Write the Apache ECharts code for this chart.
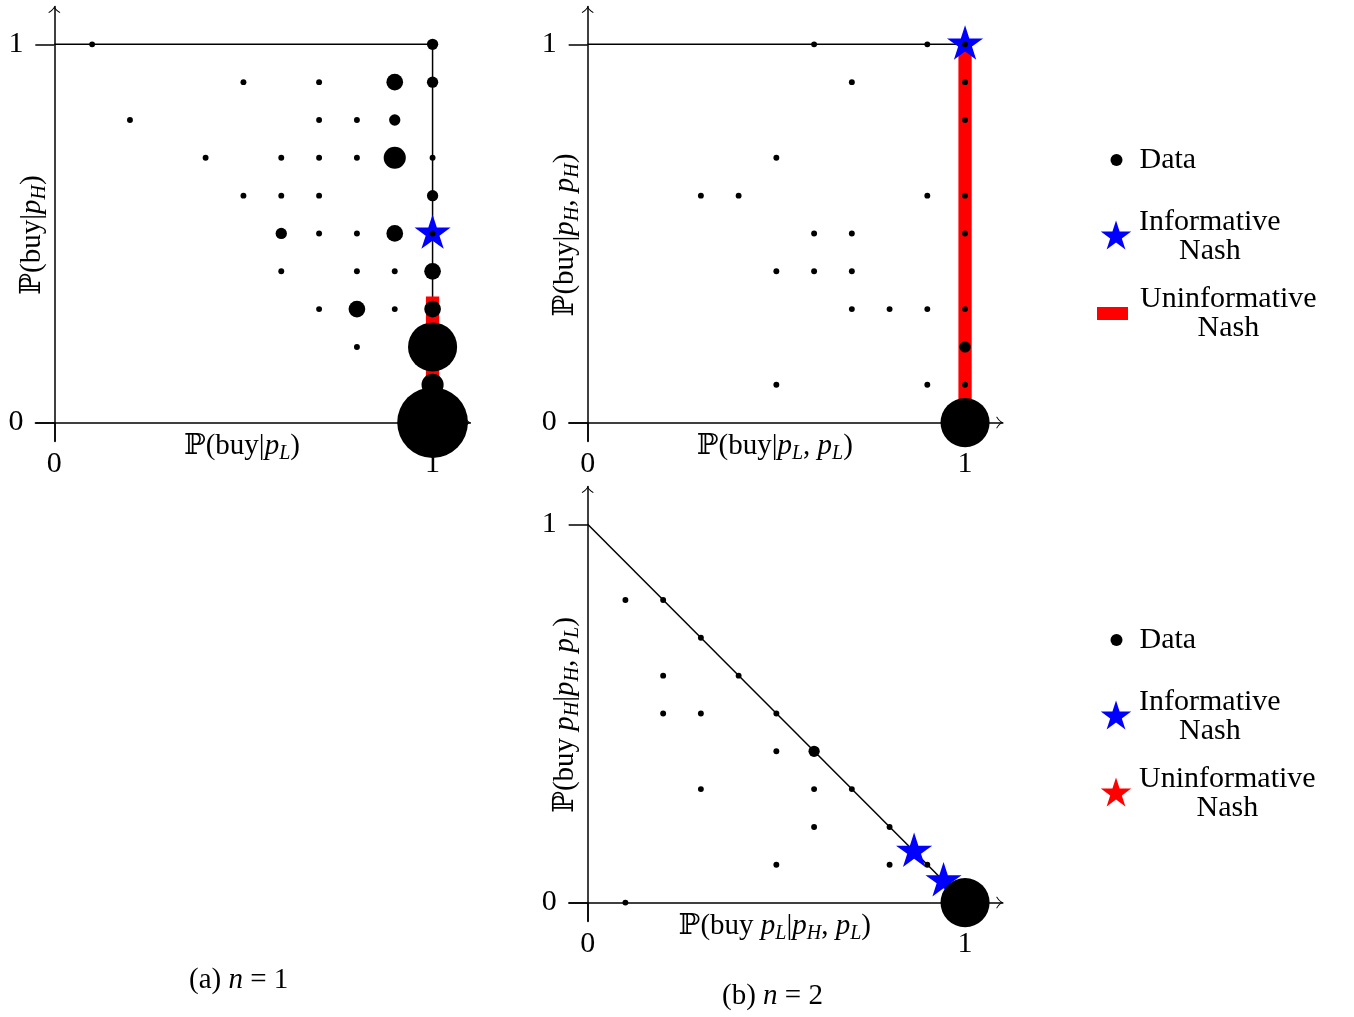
<!DOCTYPE html>
<html>
<head>
<meta charset="utf-8">
<title>Purchase decisions and Nash equilibria</title>
<script src="https://cdn.jsdelivr.net/npm/echarts@6/dist/echarts.min.js"></script>
<style>
  html, body { margin: 0; padding: 0; background: #fff; }
  #chart { width: 1354px; height: 1017px; }
</style>
</head>
<body>
<div id="chart"></div>
<script>
// Observed strategies: [x, y, number of subjects at that point]
// (a) n = 1 : x = P(buy | p_L), y = P(buy | p_H)
const dataN1 = [
  [0.1, 1.0, 1], [1.0, 1.0, 2],
  [0.5, 0.9, 1], [0.7, 0.9, 1], [0.9, 0.9, 3], [1.0, 0.9, 2],
  [0.2, 0.8, 1], [0.7, 0.8, 1], [0.8, 0.8, 1], [0.9, 0.8, 2],
  [0.4, 0.7, 1], [0.6, 0.7, 1], [0.7, 0.7, 1], [0.8, 0.7, 1], [0.9, 0.7, 4], [1.0, 0.7, 1],
  [0.5, 0.6, 1], [0.6, 0.6, 1], [0.7, 0.6, 1], [1.0, 0.6, 2],
  [0.6, 0.5, 2], [0.7, 0.5, 1], [0.8, 0.5, 1], [0.9, 0.5, 3], [1.0, 0.5, 1],
  [0.6, 0.4, 1], [0.8, 0.4, 1], [0.9, 0.4, 1], [1.0, 0.4, 3],
  [0.7, 0.3, 1], [0.8, 0.3, 3], [0.9, 0.3, 1], [1.0, 0.3, 3],
  [0.8, 0.2, 1], [1.0, 0.2, 9],
  [1.0, 0.1, 4],
  [1.0, 0.0, 13]
];
// (b) n = 2, same prices : x = P(buy | p_L, p_L), y = P(buy | p_H, p_H)
const dataN2Same = [
  [0.6, 1.0, 1], [0.9, 1.0, 1], [1.0, 1.0, 1],
  [0.7, 0.9, 1], [1.0, 0.9, 1],
  [1.0, 0.8, 1],
  [0.5, 0.7, 1],
  [0.3, 0.6, 1], [0.4, 0.6, 1], [0.9, 0.6, 1], [1.0, 0.6, 1],
  [0.6, 0.5, 1], [0.7, 0.5, 1], [1.0, 0.5, 1],
  [0.5, 0.4, 1], [0.6, 0.4, 1], [0.7, 0.4, 1],
  [0.7, 0.3, 1], [0.8, 0.3, 1], [0.9, 0.3, 1], [1.0, 0.3, 1],
  [1.0, 0.2, 2],
  [0.5, 0.1, 1], [0.9, 0.1, 1], [1.0, 0.1, 1],
  [1.0, 0.0, 9]
];
// (b) n = 2, mixed prices : x = P(buy p_L | p_H, p_L), y = P(buy p_H | p_H, p_L)
const dataN2Mixed = [
  [0.1, 0.8, 1], [0.2, 0.8, 1],
  [0.3, 0.7, 1],
  [0.2, 0.6, 1], [0.4, 0.6, 1],
  [0.2, 0.5, 1], [0.3, 0.5, 1], [0.5, 0.5, 1],
  [0.5, 0.4, 1], [0.6, 0.4, 2],
  [0.3, 0.3, 1], [0.6, 0.3, 1], [0.7, 0.3, 1],
  [0.6, 0.2, 1], [0.8, 0.2, 1],
  [0.5, 0.1, 1], [0.8, 0.1, 1], [0.9, 0.1, 1],
  [0.1, 0.0, 1], [1.0, 0.0, 9]
];

// Equilibrium predictions
const informativeN1 = [[1, 0.5]];
const informativeN2Same = [[1, 1]];
const informativeN2Mixed = [[0.865, 0.135], [0.943, 0.057]];
const uninformativeN1 = [[1, 0], [1, 1 / 3]];
const uninformativeN2Same = [[1, 0], [1, 1]];

// Boundaries of the feasible strategy region
const boundaryN1 = [[0, 1], [1, 1], [1, 0]];
const boundaryN2Same = [[0, 1], [1, 1], [1, 0]];
const boundaryN2Mixed = [[0, 1], [1, 0]];

const tickValues = [0, 1];

const axisNamesX = [
  '{r|ℙ(buy|}{i|p}{s|L}{r|)}',
  '{r|ℙ(buy|}{i|p}{s|L}{r|, }{i|p}{s|L}{r|)}',
  '{r|ℙ(buy }{i|p}{s|L}{r||}{i|p}{s|H}{r|, }{i|p}{s|L}{r|)}'
];
const axisNamesY = [
  '{r|ℙ(buy|}{i|p}{s|H}{r|)}',
  '{r|ℙ(buy|}{i|p}{s|H}{r|, }{i|p}{s|H}{r|)}',
  '{r|ℙ(buy }{i|p}{s|H}{r||}{i|p}{s|H}{r|, }{i|p}{s|L}{r|)}'
];
const captions = [
  '{r|(a) }{i|n}{r| = 1}',
  '{r|(b) }{i|n}{r| = 2}'
];

const SERIF = '"Liberation Serif", "DejaVu Serif", serif';
const mathRich = {
  r: { fontFamily: SERIF, fontSize: 29, fontWeight: 'normal', lineHeight: 34, color: '#000' },
  i: { fontFamily: SERIF, fontSize: 29, fontWeight: 'normal', fontStyle: 'italic', lineHeight: 34, color: '#000' },
  s: { fontFamily: SERIF, fontSize: 20, fontWeight: 'normal', fontStyle: 'italic', lineHeight: 18, verticalAlign: 'bottom', color: '#000' }
};
const legendRich = {
  a: { fontFamily: SERIF, fontSize: 30, lineHeight: 29, color: '#000' },
  c: { fontFamily: SERIF, fontSize: 30, lineHeight: 29, color: '#000', align: 'center' },
  g: { width: 7, height: 1 }
};

// five-pointed star, centred on its circumcircle
const STAR = 'path://M50,100M50,0L61.23,34.55L97.55,34.55L68.16,55.9L79.39,90.45L50,69.1L20.61,90.45L31.84,55.9L2.45,34.55L38.77,34.55Z';
// open arrow head for the axis ends
const ARROW = 'path://M6,0Q7.2,3.4 12,6.4L11.3,7.1Q7.6,4.7 6,2.3Q4.4,4.7 0.7,7.1L0,6.4Q4.8,3.4 6,0Z';

const bubbleSize = count => 0.5 + 5.4 * count;

const grids = [
  { left: 35.4, top: 6.5, width: 435, height: 435 },
  { left: 568.8, top: 6.5, width: 434, height: 435 },
  { left: 568.8, top: 486.5, width: 434, height: 435 }
].map(g => Object.assign({ containLabel: false, outerBoundsMode: 'none' }, g));

function axisCommon(i) {
  return {
    gridIndex: i,
    type: 'value',
    min: -0.05,
    max: 1.1,
    axisLine: {
      onZero: true,
      symbol: ['none', ARROW],
      symbolSize: [12, 8],
      symbolOffset: [0, -3],
      lineStyle: { color: '#000', width: 1.5 }
    },
    axisTick: {
      show: true,
      customValues: tickValues,
      inside: false,
      length: 19,
      lineStyle: { color: '#000', width: 1.5 }
    },
    splitLine: { show: false },
    nameLocation: 'middle',
    nameMoveOverlap: false
  };
}

const xAxes = [0, 1, 2].map(i => Object.assign(axisCommon(i), {
  axisLabel: { customValues: tickValues, margin: 8, fontFamily: SERIF, fontSize: 30, color: '#000' },
  name: axisNamesX[i],
  nameGap: -12,
  nameTextStyle: { rich: mathRich, padding: [0, 22, 0, 0] }
}));
const yAxes = [0, 1, 2].map(i => Object.assign(axisCommon(i), {
  axisLabel: { customValues: tickValues, margin: 12, fontFamily: SERIF, fontSize: 30, color: '#000' },
  name: axisNamesY[i],
  nameGap: -14,
  nameTextStyle: { rich: mathRich, padding: [0, 22, 0, 0] }
}));

function boundary(i, data) {
  return {
    type: 'line', name: 'boundary', xAxisIndex: i, yAxisIndex: i, data,
    symbol: 'none', silent: true, clip: false, z: 1,
    lineStyle: { color: '#000', width: 1.5 }
  };
}
function uninformative(i, data) {
  return {
    type: 'line', name: 'Uninformative Nash', xAxisIndex: i, yAxisIndex: i, data,
    symbol: 'none', silent: true, clip: false, z: 2,
    itemStyle: { color: '#ff0000', opacity: 1 },
    lineStyle: { color: '#ff0000', width: 13.3, cap: 'butt', opacity: 1 }
  };
}
function informative(i, data) {
  return {
    type: 'scatter', name: 'Informative Nash', xAxisIndex: i, yAxisIndex: i, data,
    symbol: STAR, symbolSize: 38, symbolKeepAspect: true, silent: true, clip: false, z: 3,
    itemStyle: { color: '#0000ff', opacity: 1 }
  };
}
function observed(i, data) {
  return {
    type: 'scatter', name: 'Data', xAxisIndex: i, yAxisIndex: i, data,
    symbol: 'circle', symbolSize: v => bubbleSize(v[2]), silent: true, clip: false, z: 4,
    itemStyle: { color: '#000', opacity: 1 }
  };
}

function legendEntry(name, icon, left, top, w, h, text) {
  return {
    data: [{ name, icon, itemStyle: { borderWidth: 0, opacity: 1 } }],
    left, top, itemWidth: w, itemHeight: h,
    padding: 0, selectedMode: false,
    itemStyle: { borderWidth: 0 },
    formatter: () => text,
    textStyle: { rich: legendRich }
  };
}

const legends = [
  legendEntry('Data', 'circle', 1110.5, 145, 36, 12, '{a|Data}'),
  legendEntry('Informative Nash', STAR, 1100.8, 207, 36, 32, '{a|Informative}\n{c|Nash}'),
  legendEntry('Uninformative Nash', 'rect', 1097, 284, 31, 13, '{g|}{a|Uninformative}\n{g|}{c|Nash}'),
  legendEntry('Data', 'circle', 1110.5, 625, 36, 12, '{a|Data}'),
  legendEntry('Informative Nash', STAR, 1100.8, 687, 36, 32, '{a|Informative}\n{c|Nash}'),
  legendEntry('Uninformative Nash', STAR, 1100.8, 764, 36, 32, '{a|Uninformative}\n{c|Nash}')
];

const chart = echarts.init(document.getElementById('chart'), null, { renderer: 'canvas' });
chart.setOption({
  animation: false,
  backgroundColor: '#fff',
  title: [
    { text: captions[0], left: 189, top: 963, padding: 0, textStyle: { fontWeight: 'normal', rich: mathRich } },
    { text: captions[1], left: 722, top: 979, padding: 0, textStyle: { fontWeight: 'normal', rich: mathRich } }
  ],
  legend: legends,
  grid: grids,
  xAxis: xAxes,
  yAxis: yAxes,
  series: [
    boundary(0, boundaryN1),
    uninformative(0, uninformativeN1),
    informative(0, informativeN1),
    observed(0, dataN1),

    boundary(1, boundaryN2Same),
    uninformative(1, uninformativeN2Same),
    informative(1, informativeN2Same),
    observed(1, dataN2Same),

    boundary(2, boundaryN2Mixed),
    informative(2, informativeN2Mixed),
    observed(2, dataN2Mixed)
  ]
});
</script>
</body>
</html>
